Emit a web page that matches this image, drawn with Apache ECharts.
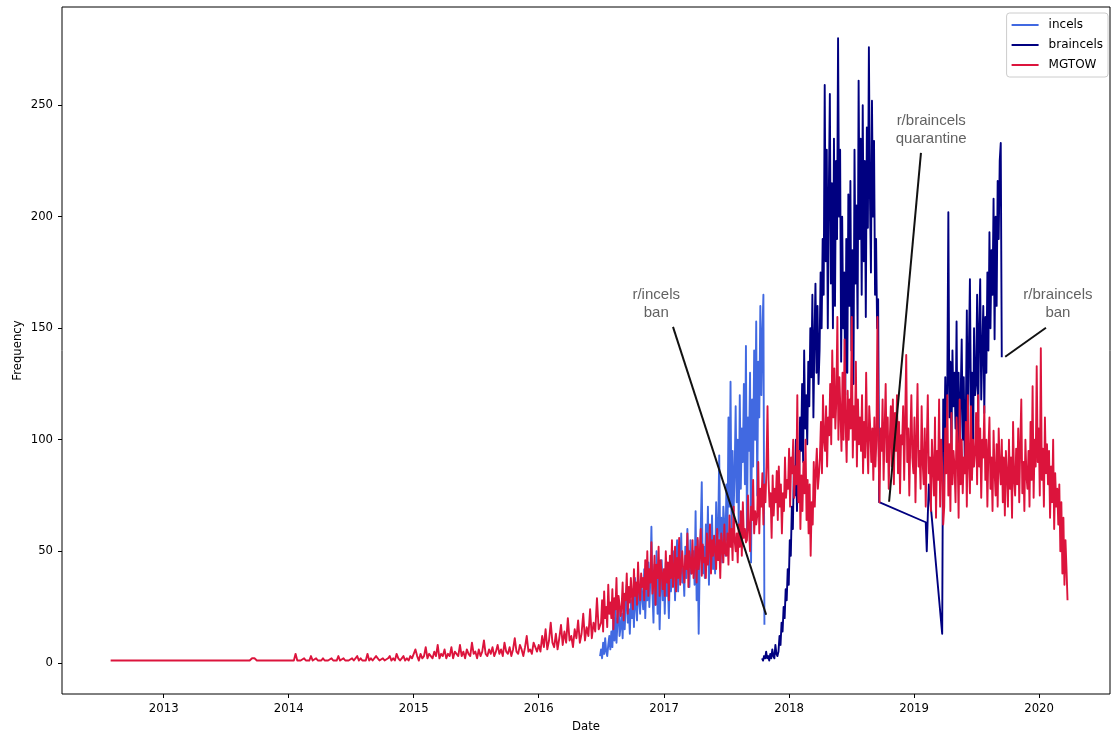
<!DOCTYPE html>
<html><head><meta charset="utf-8">
<script src="https://cdn.jsdelivr.net/npm/echarts@6/dist/echarts.min.js"></script>
<style>html,body{margin:0;padding:0;background:#fff}#c{width:1112px;height:738px}</style>
</head><body><div id="c"></div>
<script>
// ---------- DATA ----------
const xTickYears = [2013, 2014, 2015, 2016, 2017, 2018, 2019, 2020];
const yTicks = [0, 50, 100, 150, 200, 250];
const seriesNames = ['incels', 'braincels', 'MGTOW'];

// MGTOW, part A: weekly from 2012-07-30
const mgtowAStart = '2012-07-30', mgtowAStep = 7;
const mgtowA = [
1,1,1,1,1,1,1,1,1,1, 1,1,1,1,1,1,1,1,1,1, 1,1,1,1,1,1,1,1,1,1,
1,1,1,1,1,1,1,1,1,1, 1,1,1,1,1,1,1,1,1,1, 1,1,1,1,1,1,1,1,1,2,
2,1,1,1,1,1,1,1,1,1, 1,1,1,1,1];
// MGTOW, part B: every 5 days from 2014-01-01
const mgtowBStart = '2014-01-01', mgtowBStep = 5;
const mgtowB = [
1,1,1,1,4,1,1,1,1,2, 1,1,1,3,1,1,2,1,1,1, 2,1,1,1,1,2,1,1,1,3, 1,1,2,1,1,1,1,2,1,1,
3,1,2,1,1,1,4,1,2,1, 1,3,2,1,1,2,1,1,2,3, 1,2,1,4,2,1,2,3,1,2, 1,3,2,
2,6,3,1,4,2,3,7,2,4, 3,2,5,3,8,2,4,3,6,2, 4,3,7,2,5,4,3,8,3,5, 2,6,4,3,9,4,5,2,6,3,
5,10,4,3,6,4,7,3,5,8, 4,6,3,9,5,4,7,3,6,11, 5,4,8,6,3,7,12,5, 6,4,9,7,5,
8,5,12,7,15,6,10,18,9,7, 13,6,11,17,8,14,9,20,10,12, 7,15,11,19,9,13,22,10,16,12, 24,11,18,14,29,15];
// MGTOW, part C: every 3 days from 2016-07-01
const mgtowCStart = '2016-07-01', mgtowCStep = 3;
const mgtowC = [
18,28,14,32,20,25,16,35,22,27, 20,33,15,29,24,38,18,30,26,21, 25,36,19,31,28,40,22,34,27,38,30,
24,42,30,36,26,45,32,28,40,34, 38,28,46,33,50,30,42,36,54,31, 35,48,26,44,38,52,30,46,40,33,
42,30,50,36,45,28,48,38,55,34, 40,52,32,47,38,56,35,44,50,41, 36,48,42,58,34,50,45,40,55,38,
44,52,36,56,42,48,60,39,53,45, 47,38,58,44,52,62,40,55,48,57, 50,42,60,46,55,38,58,52,45,62,49,
48,58,44,66,52,60,46,70,55,50, 58,45,62,52,68,48,72,56,60,54, 55,75,60,50,70,64,82,58,68,62,
66,90,58,78,70,85,62,80,72,88, 115,82,70,76,56,84,66,78,72,86, 64,88,70,80,58,76,68,92,74,82,
78,96,70,92,85,100,74,88,80,120, 72,95,60,84,68,90,76,100,64,82, 58,80,48,72,62,90,70,86,96,78,84,
92,108,85,120,100,95,115,88,110,102, 125,98,140,110,132,105,118,155,100,128, 112,95,130,100,145,108,90,122,100,118,
105,155,92,115,100,135,88,118,98,110, 95,120,85,108,92,130,100,85,115,105, 90,105,82,110,88,100,155,96,72,105,
95,118,82,105,125,90,110,78,100,115, 88,118,80,112,95,120,85,108,76,102, 98,115,82,110,138,90,105,75,100,120,92,
85,110,72,100,125,88,95,78,115,90, 80,105,70,98,120,85,92,68,100,88, 75,110,65,95,82,118,70,100,88,62,
70,105,85,120,75,98,68,112,80,95, 88,72,110,95,65,118,80,100,76,92, 85,108,70,120,90,76,115,82,100,88,
95,112,80,120,88,105,74,100,92,115, 82,100,70,96,110,78,92,68,104,86, 75,98,70,105,88,80,100,72,92,66,95,
85,70,100,78,92,65,108,82,75,96, 80,105,72,98,118,76,90,68,100,84, 78,95,70,108,82,124,74,100,88,133,
90,105,75,141,82,96,70,110,85,98, 80,95,65,88,72,100,60,85,70,78, 62,80,50,72,40,65,35,55,42,28];

// incels: every 3 days from 2016-06-28
const incelsStart = '2016-06-28', incelsStep = 3;
const incels = [
3,6,2,9,4,11,5,3,8,12,6,
14,7,20,10,25,9,18,28,12,16, 22,11,30,15,26,35,18,24,13,28, 20,33,16,38,25,19,40,28,22,35,
30,24,42,20,36,28,45,25,38,61, 32,18,44,26,50,22,38,15,34,46, 28,40,22,45,30,36,20,42,32,38,
35,50,28,45,55,32,48,40,58,36, 42,30,52,38,60,45,34,55,40,48, 50,35,68,28,55,13,45,60,81,40,
52,38,62,45,70,35,58,48,66,42, 55,40,72,48,60,93,50,65,45,70, 62,48,80,55,110,70,126,60,95,68,
85,115,72,100,60,120,78,105,90,125, 80,142,57,110,95,130,45,118,88,140, 100,153,75,135,110,160,120,148,165,17];

// braincels, first run: every 3 days from 2017-10-14
const braincelsAStart = '2017-10-14', braincelsAStep = 3;
const braincelsA = [
2,1,3,2,5,2,
3,1,4,2,6,3,2,8,4,3, 5,12,8,18,14,25,20,33,28,42, 35,55,48,70,60,88,75,100,68,95,
80,110,95,125,90,140,105,120,98,135, 115,150,128,165,110,145,170,130,160,125,
140,175,150,190,165,259,180,230,150,210, 255,170,215,150,235,160,225,190,280,200,
230,135,200,150,175,120,190,130,210,160, 216,140,185,125,230,170,205,150,261,190,
235,165,250,180,225,155,240,195,276,210, 175,252,200,234,165,190,150,163,72];
// braincels, sparse days in the gap
const braincelsGapDates = ['2019-02-04', '2019-02-07', '2019-02-10', '2019-02-13', '2019-03-24'];
const braincelsGapValues = [63, 50, 66, 80, 13];
// braincels, second run: every 3 days from 2019-03-27
const braincelsBStart = '2019-03-27', braincelsBStep = 3;
const braincelsB = [
118,95,
128,100,125,202,110,135,96,140,115,130, 105,153,92,130,85,120,145,100,128,90,
110,158,95,140,172,115,130,88,150,120, 125,165,108,150,172,118,140,160,112,155,
130,175,140,193,150,185,165,208,145,200, 160,216,190,225,233,137];

// annotations
const annTexts = ['r/incels\nban', 'r/braincels\nquarantine', 'r/braincels\nban'];
const annTextDates = ['2016-12-09', '2019-02-20', '2020-02-25'];
const annTextValues = [161, 239, 161];
const annFromDates = ['2017-01-27', '2019-01-21', '2020-01-21'];
const annFromValues = [150.6, 228.6, 150.2];
const annToDates = ['2017-10-26', '2018-10-20', '2019-09-24'];
const annToValues = [21.5, 72.2, 137.2];

const axisMinDate = '2012-03-10', axisMaxDate = '2020-07-26';
const yMin = -14, yMax = 294;

// ---------- BUILD ----------
function dayMs(s) { const p = s.split('-').map(Number); return Date.UTC(p[0], p[1] - 1, p[2]); }
function seq(start, step, vals) { const t0 = dayMs(start); return vals.map((v, i) => [t0 + i * step * 86400000, v]); }

const mgtowData = seq(mgtowAStart, mgtowAStep, mgtowA)
  .concat(seq(mgtowBStart, mgtowBStep, mgtowB))
  .concat(seq(mgtowCStart, mgtowCStep, mgtowC));
const incelsData = seq(incelsStart, incelsStep, incels);
const braincelsData = seq(braincelsAStart, braincelsAStep, braincelsA)
  .concat(braincelsGapDates.map((d, i) => [dayMs(d), braincelsGapValues[i]]))
  .concat(seq(braincelsBStart, braincelsBStep, braincelsB));

const colors = { incels: '#4169E1', braincels: '#000080', MGTOW: '#DC143C' };
const FONT = 'DejaVu Sans';
const xTickMs = xTickYears.map(y => Date.UTC(y, 0, 1));

function lineSeries(name, data, z) {
  return {
    name, type: 'line', data, z, symbol: 'none', showSymbol: false,
    lineStyle: { color: colors[name], width: 1.9, join: 'round' },
    itemStyle: { color: colors[name] }, silent: true
  };
}

const annData = annTexts.map((t, i) => [dayMs(annTextDates[i]), annTextValues[i], t]);
const annLines = annTexts.map((t, i) => [
  { coord: [dayMs(annFromDates[i]), annFromValues[i]] },
  { coord: [dayMs(annToDates[i]), annToValues[i]] }
]);

const chart = echarts.init(document.getElementById('c'), null, { renderer: 'canvas' });
chart.setOption({
  animation: false,
  backgroundColor: '#fff',
  grid: { left: 62, right: 2, top: 7, bottom: 44, show: true, borderColor: '#000', borderWidth: 1, backgroundColor: 'transparent' },
  legend: {
    data: seriesNames, orient: 'vertical', right: 4, top: 13,
    icon: 'rect', padding: [5, 5, 5, 5], itemWidth: 27, itemHeight: 2, itemGap: 6,
    backgroundColor: 'rgba(255,255,255,0.8)', borderColor: '#cccccc', borderWidth: 1, borderRadius: 3,
    textStyle: { fontFamily: FONT, fontSize: 12, lineHeight: 14, color: '#000', padding: [0, 0, 0, 5] }
  },
  xAxis: {
    type: 'value', min: dayMs(axisMinDate), max: dayMs(axisMaxDate),
    name: 'Date', nameLocation: 'middle', nameGap: 27,
    nameTextStyle: { fontFamily: FONT, fontSize: 11.7, color: '#000' },
    axisLine: { show: false, onZero: false },
    splitLine: { show: false },
    axisTick: { show: true, length: 4, lineStyle: { color: '#000' }, customValues: xTickMs },
    axisLabel: { fontFamily: FONT, fontSize: 11.7, color: '#000', margin: 9, hideOverlap: false,
      customValues: xTickMs,
      formatter: v => String(new Date(v).getUTCFullYear()) }
  },
  yAxis: {
    type: 'value', min: yMin, max: yMax,
    name: 'Frequency', nameLocation: 'middle', nameGap: 38, nameMoveOverlap: false,
    nameTextStyle: { fontFamily: FONT, fontSize: 11.7, color: '#000' },
    axisLine: { show: false, onZero: false },
    splitLine: { show: false },
    axisTick: { show: true, length: 4, lineStyle: { color: '#000' }, customValues: yTicks },
    axisLabel: { fontFamily: FONT, fontSize: 11.7, color: '#000', margin: 9, customValues: yTicks }
  },
  series: [
    lineSeries('incels', incelsData, 2),
    lineSeries('braincels', braincelsData, 3),
    lineSeries('MGTOW', mgtowData, 4),
    {
      name: 'annotations', type: 'scatter', data: annData, symbolSize: 0, z: 10, silent: true,
      label: { show: true, position: 'inside', formatter: p => p.data[2],
        fontFamily: 'Liberation Sans', fontSize: 15, lineHeight: 18, color: '#3a3a3a', align: 'center', verticalAlign: 'middle' },
      markLine: {
        silent: true, symbol: ['none', 'none'], animation: false,
        label: { show: false },
        lineStyle: { color: '#111', width: 2, type: 'solid' },
        emphasis: { disabled: true },
        data: annLines
      }
    }
  ]
});
</script>
</body></html>
